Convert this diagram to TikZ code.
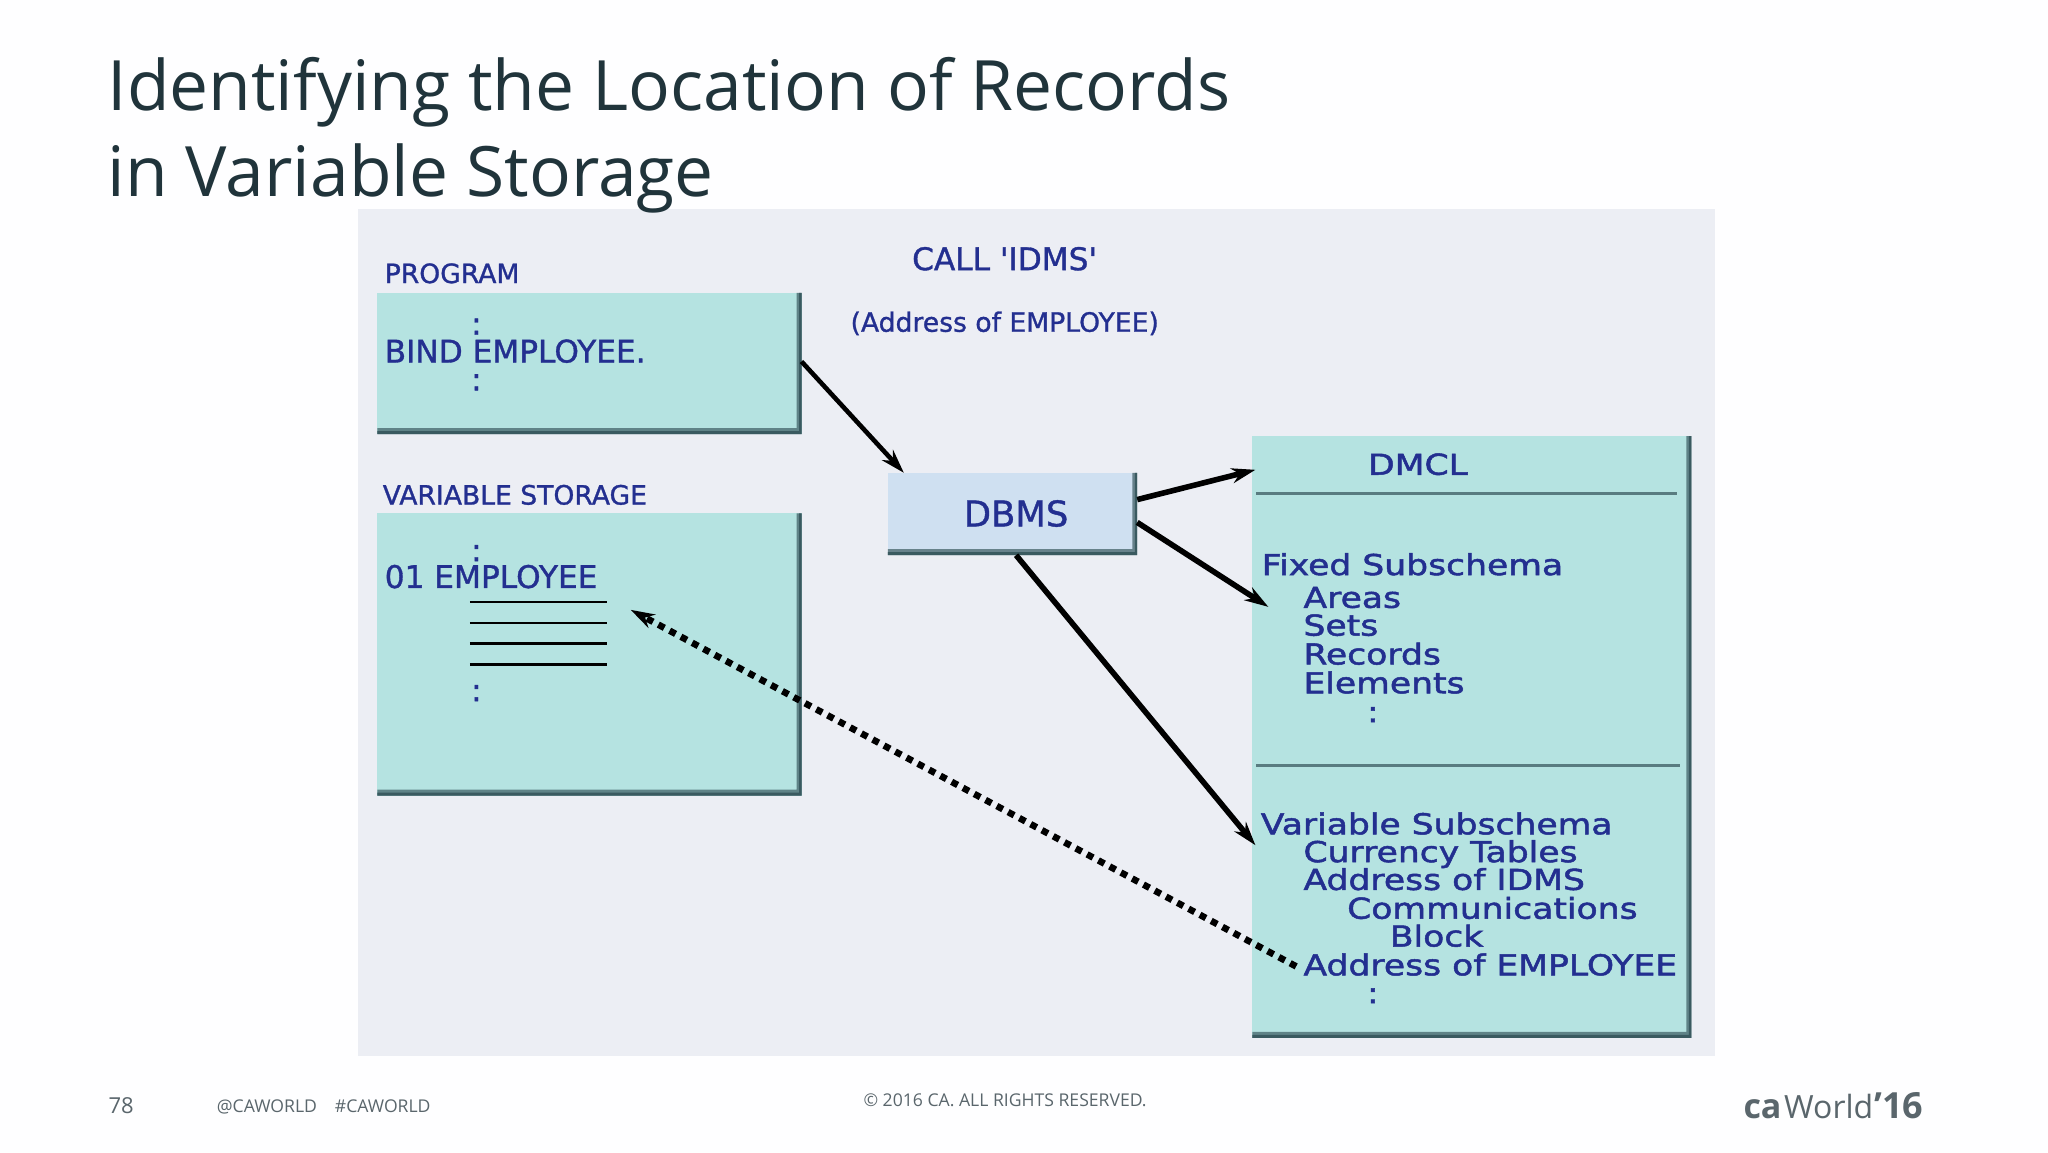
\documentclass[tikz,border=0pt]{standalone}
\usepackage{fontspec}
\setmainfont{Open Sans}
\newfontfamily\leftf[FakeStretch=1.0,FakeBold=1.1]{DejaVu Sans}
\newfontfamily\rightf[FakeStretch=1.2,FakeBold=1.7]{DejaVu Sans}
\usetikzlibrary{arrows.meta}
\definecolor{navy}{HTML}{232F90}
\definecolor{teal}{HTML}{B5E3E1}
\definecolor{sky}{HTML}{CFE0F1}
\definecolor{panel}{HTML}{ECEEF4}
\definecolor{titlec}{HTML}{20343B}
\definecolor{footc}{HTML}{5A666C}
\definecolor{edge}{HTML}{3A5A60}
\tikzset{
  x=0.4966pt,y=-0.4966pt,
  lt/.style={anchor=base west,inner sep=0pt,text=navy,font=\leftf\fontsize{15.6}{18}\selectfont},
  lts/.style={lt,font=\leftf\fontsize{13.3}{15}\selectfont},
  rt/.style={anchor=base west,inner sep=0pt,text=navy,font=\rightf\fontsize{14.4}{16}\selectfont},
  foot/.style={anchor=base west,inner sep=0pt,text=footc,font=\fontsize{8.8}{11}\selectfont},
  ttl/.style={anchor=base west,inner sep=0pt,text=titlec,font=\fontsize{34.75}{40}\selectfont},
  arrow/.style={draw=black,line width=2.8pt,-{Stealth[length=12pt,width=7.5pt]}},
  dotarrow/.style={draw=black,line width=3.3pt,dash pattern=on 3.4pt off 3pt,-{Stealth[length=12pt,width=7.5pt]}},
  rule/.style={draw=black,line width=1.2pt},
  sep/.style={draw=edge!75!teal,line width=1.5pt},
}
\newcommand{\shadedbox}[6]{% name, x1, y1, x2, y2, fill
  \fill[#6] (#2,#3) rectangle (#4,#5);
  \fill[edge!70!#6] (#4,#3) -- (#4,#5) -- (#2,#5) -- ({#2},{#5-6}) -- ({#4-5},{#5-6}) -- ({#4-5},#3) -- cycle;
  \fill[edge] (#4,#3) -- (#4,#5) -- (#2,#5) -- ({#2},{#5-3}) -- ({#4-2.5},{#5-3}) -- ({#4-2.5},#3) -- cycle;
  \coordinate (#1) at ({(#2+#4)/2},{(#3+#5)/2});
}
\begin{document}
\begin{tikzpicture}
\useasboundingbox (0,0) rectangle (2062,1160);
\fill[white!97!panel] (0,0) rectangle (2062,1160);
\fill[panel] (360,210) rectangle (1727,1063);
\shadedbox{prog}{380}{295}{807}{437}{teal}
\shadedbox{vars}{380}{517}{807}{801}{teal}
\shadedbox{dbms}{894}{476}{1145}{559}{sky}
\shadedbox{dmcl}{1261}{439}{1703}{1045}{teal}

\node[ttl] (t1) at (108,111) {Identifying the Location of Records};
\node[ttl] (t2) at (108,198) {in Variable Storage};

\node[lts] (n1) at (387,285) {PROGRAM};
\node[lt] (n2) at (387,365) {BIND EMPLOYEE.};
\node[lts] (n3) at (385,508) {VARIABLE STORAGE};
\node[lt] (n4) at (387,592) {01 EMPLOYEE};
\node[lt] (n5) at (918,272) {CALL 'IDMS'};
\node[lts] (n6) at (856,334) {(Address of EMPLOYEE)};
\node[lt,font=\leftf\fontsize{17.7}{20}\selectfont] (n7) at (970,530) {DBMS};
\node[lt] (d1) at (474,337) {:};
\node[lt] (d2) at (474,393) {:};
\node[lt] (d3) at (474,565) {:};
\node[lt] (d4) at (474,706) {:};

\foreach \yy in {606,627,648,669}{\draw[rule] (473,\yy) -- (611,\yy);}

\node[rt] (r0) at (1377,478) {DMCL};
\draw[sep] (1265,497) -- (1688,497);
\node[rt] (r1) at (1270,579) {Fixed Subschema};
\node[rt] (r2) at (1312,612) {Areas};
\node[rt] (r3) at (1312,640) {Sets};
\node[rt] (r4) at (1312,669) {Records};
\node[rt] (r5) at (1312,698) {Elements};
\node[rt] (r6) at (1376,727) {:};
\draw[sep] (1265,771) -- (1691,771);
\node[rt] (r7) at (1269,840) {Variable Subschema};
\node[rt] (r8) at (1312,868) {Currency Tables};
\node[rt] (r9) at (1312,896) {Address of IDMS};
\node[rt] (r10) at (1356,925) {Communications};
\node[rt] (r11) at (1399,953) {Block};
\node[rt] (r12) at (1312,982) {Address of EMPLOYEE};
\node[rt] (r13) at (1376,1010) {:};

\coordinate (a1s) at (807,364);
\coordinate (a1e) at (910,476);
\coordinate (a2s) at (1145,503);
\coordinate (a2e) at (1264,473);
\coordinate (a3s) at (1145,526);
\coordinate (a3e) at (1277,611);
\coordinate (a4s) at (1023,559);
\coordinate (a4e) at (1264,851);
\coordinate (a5s) at (1305,973);
\coordinate (a5e) at (635,614);
\draw[arrow,line width=2.3pt] (a1s) -- (a1e);
\draw[arrow] (a2s) -- (a2e);
\draw[arrow] (a3s) -- (a3e);
\draw[arrow] (a4s) -- (a4e);
\draw[dotarrow] (a5s) -- (a5e);

\node[foot,font=\fontsize{11}{13}\selectfont] (f1) at (109,1121) {78};
\node[foot] (f2) at (218,1120) {@CAWORLD\hspace{9pt}\#CAWORLD};
\node[foot] (f3) at (869,1114) {© 2016 CA. ALL RIGHTS RESERVED.};
\node[foot,font=\bfseries\fontsize{17}{20}\selectfont] (l1) at (1755,1126) {ca};
\node[foot,font=\fontsize{16}{20}\selectfont] (l2) at (1796,1126) {World};
\node[foot,font=\bfseries\fontsize{18}{20}\selectfont] (l3) at (1887,1126) {’16};
\end{tikzpicture}
\end{document}
